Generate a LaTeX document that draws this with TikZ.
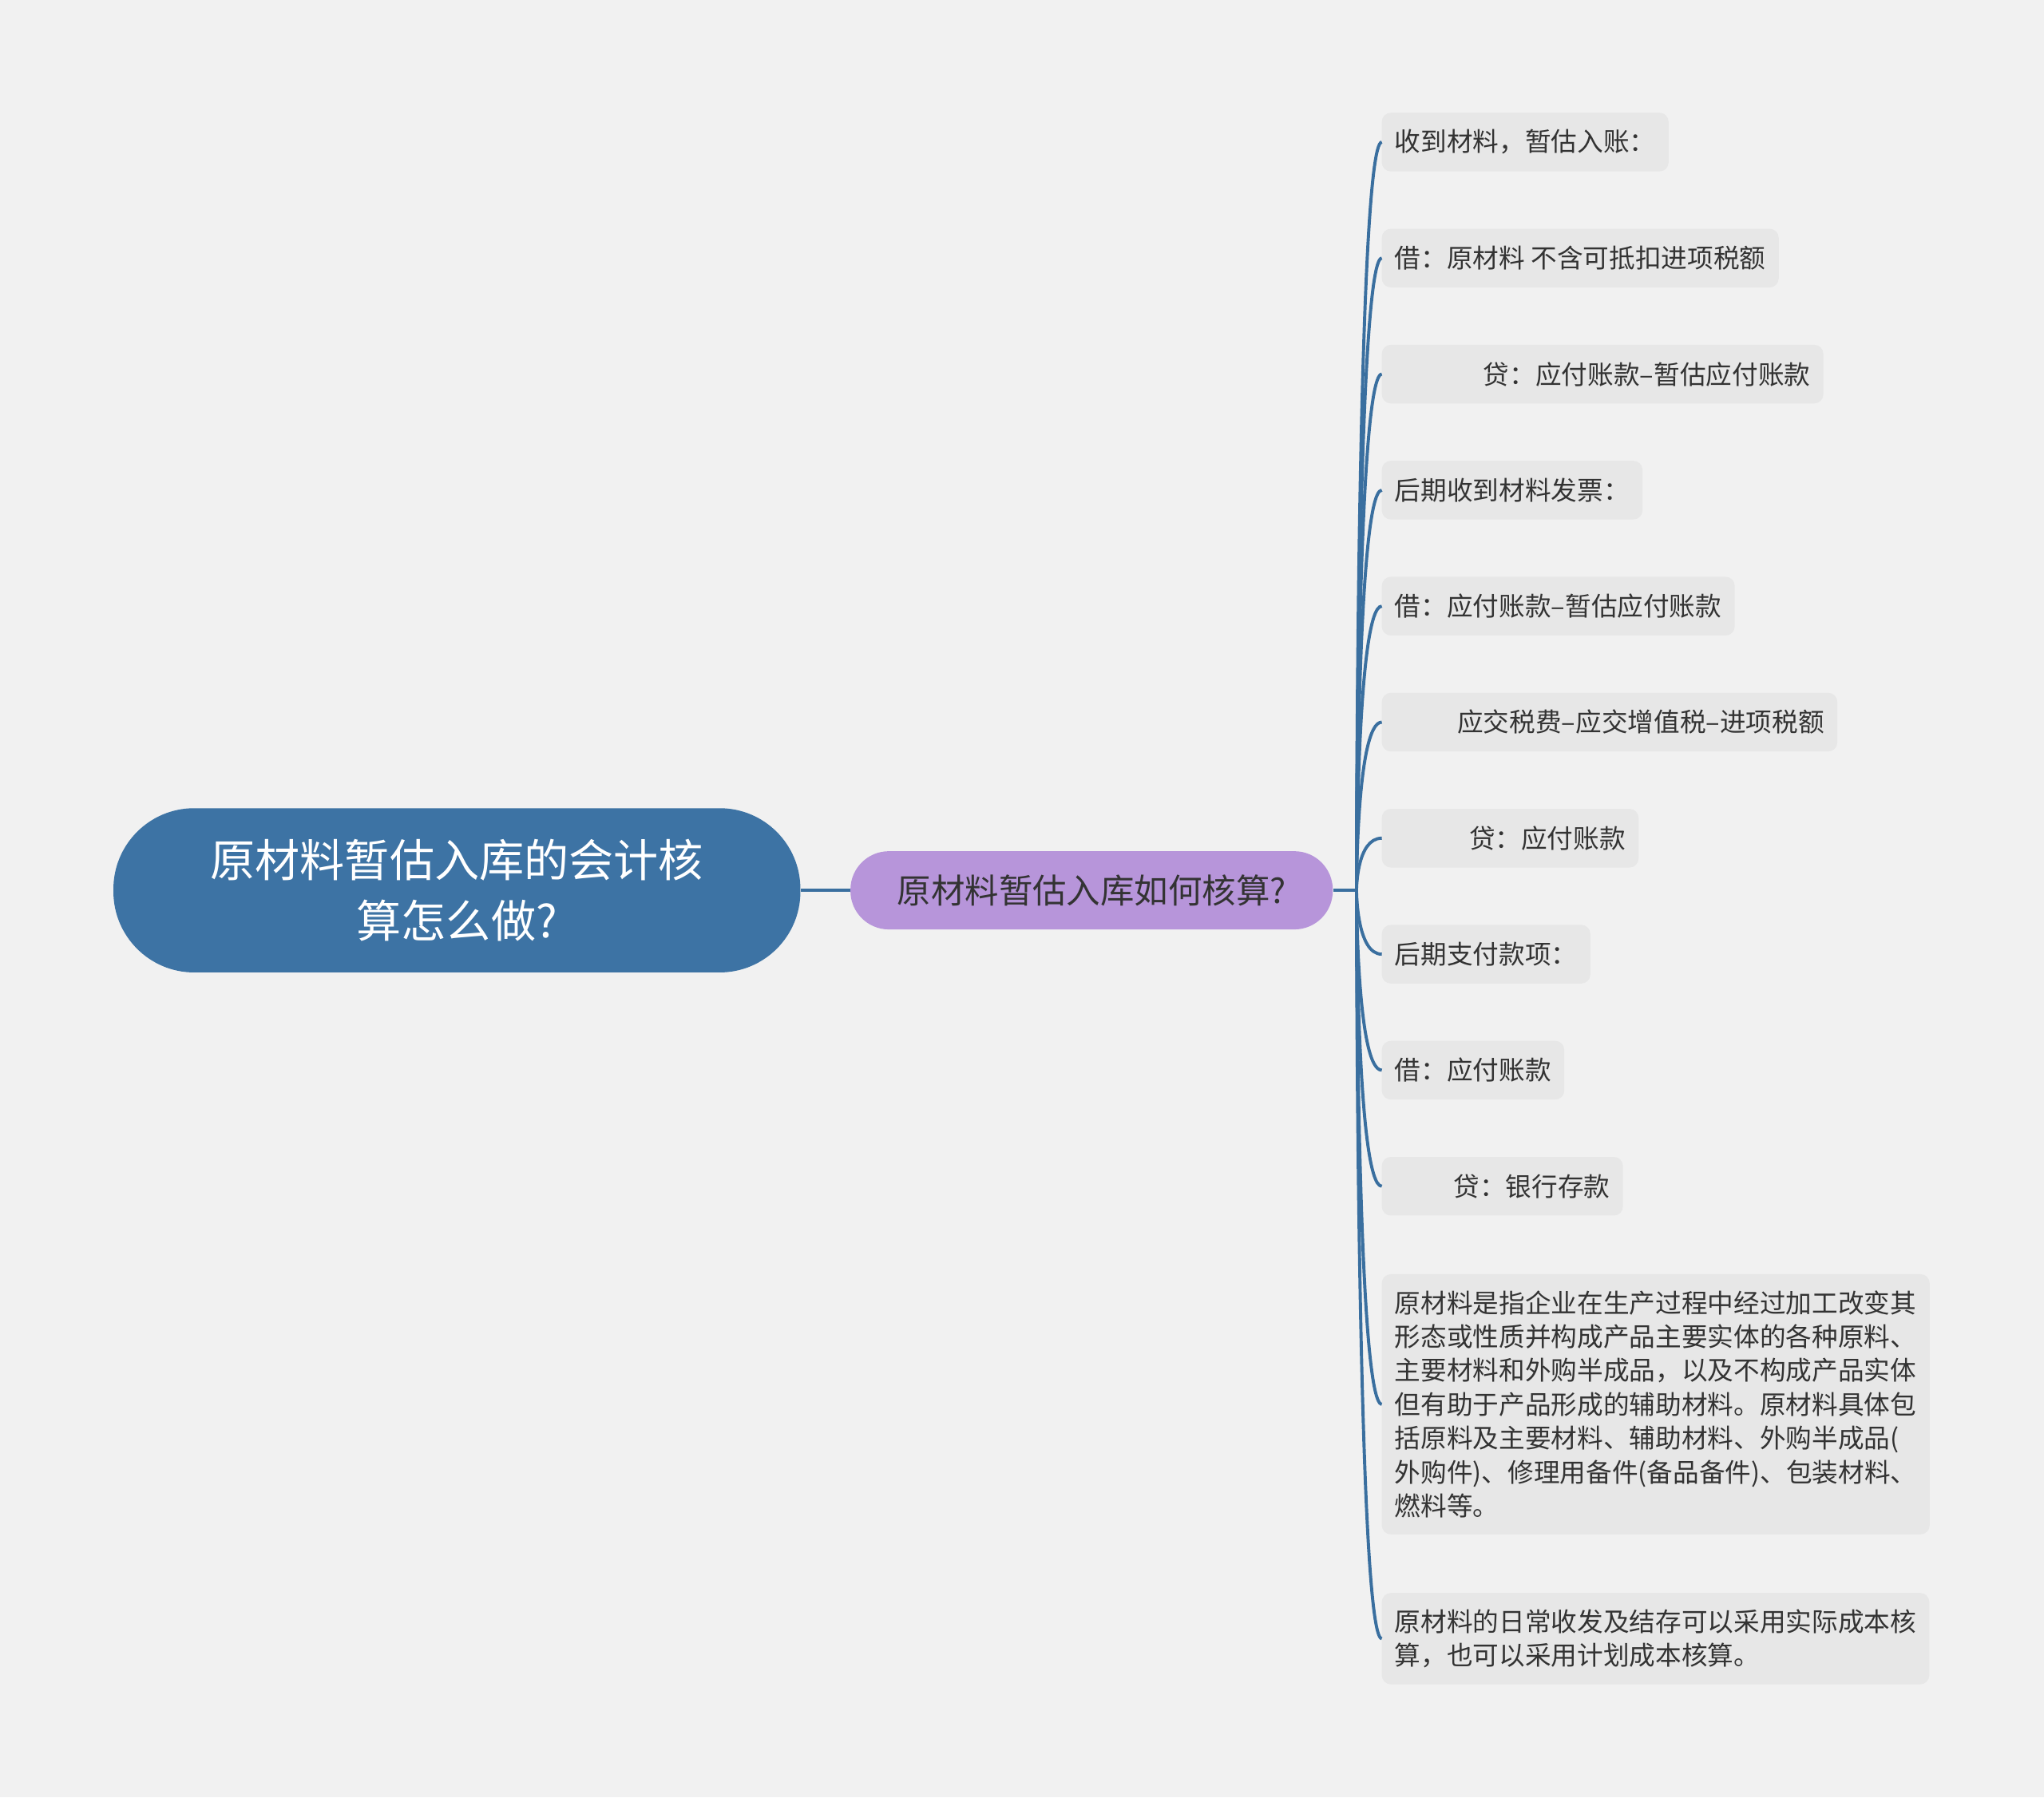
\documentclass[tikz,border=0pt]{standalone}
\usepackage{fontspec}
\setmainfont{Noto Sans CJK SC}
\usepackage{tikz}
\usetikzlibrary{positioning}

\definecolor{bgcol}{HTML}{F1F1F1}
\definecolor{rootcol}{HTML}{3D73A4}
\definecolor{subcol}{HTML}{B795DA}
\definecolor{leafcol}{HTML}{E7E7E7}
\definecolor{linecol}{HTML}{3A6F9F}
\definecolor{txtcol}{HTML}{333333}

\begin{document}
\begin{tikzpicture}[x=1pt,y=1pt,
			node distance=44pt,
			rootbox/.style={
				fill=rootcol,
				text=white,
				rounded corners=62pt,
				minimum width=527pt,
				minimum height=126pt,
				align=center,
				font=\fontsize{34.4}{46}\selectfont
			},
			subbox/.style={
				fill=subcol,
				text=txtcol,
				rounded corners=29.5pt,
				minimum width=370pt,
				minimum height=60pt,
				font=\fontsize{26}{30}\selectfont
			},
			leaf/.style={
				fill=leafcol,
				text=txtcol,
				rounded corners=7pt,
				inner xsep=10pt,
				inner ysep=5pt,
				outer sep=0pt,
				minimum height=45pt,
				align=left,
				font=\fontsize{20}{26}\selectfont
			},
			para/.style={leaf,inner ysep=12.5pt},
			link/.style={draw=linecol,line width=2.4pt}]
			
			\useasboundingbox[fill=bgcol](0,0) rectangle (1568,-1379);
			
			\node (root)[rootbox] at (350.5,-683){原材料暂估入库的会计核\\算怎么做?};
			
			\node (sub)[subbox,right=38pt of root]{原材料暂估入库如何核算?};
			
			\coordinate (hub) at ([xshift=18pt]sub.east);
			
			\node (l1)[leaf,anchor=west] at (1060,-109){收到材料，暂估入账：};
			
			\node (l2)[leaf,below=of l1.south west,anchor=north west]{借：原材料 不含可抵扣进项税额};
			
			\node (l3)[leaf,below=of l2.south west,anchor=north west]{\hspace*{68pt}贷：应付账款–暂估应付账款};
			
			\node (l4)[leaf,below=of l3.south west,anchor=north west]{后期收到材料发票：};
			
			\node (l5)[leaf,below=of l4.south west,anchor=north west]{借：应付账款–暂估应付账款};
			
			\node (l6)[leaf,below=of l5.south west,anchor=north west]{\hspace*{48pt}应交税费–应交增值税–进项税额};
			
			\node (l7)[leaf,below=of l6.south west,anchor=north west]{\hspace*{57pt}贷：应付账款};
			
			\node (l8)[leaf,below=of l7.south west,anchor=north west]{后期支付款项：};
			
			\node (l9)[leaf,below=of l8.south west,anchor=north west]{借：应付账款};
			
			\node (l10)[leaf,below=of l9.south west,anchor=north west]{\hspace*{45pt}贷：银行存款};
			
			\node (l11)[para,below=45pt of l10.south west,anchor=north west]{原材料是指企业在生产过程中经过加工改变其\\形态或性质并构成产品主要实体的各种原料、\\主要材料和外购半成品，以及不构成产品实体\\但有助于产品形成的辅助材料。原材料具体包\\括原料及主要材料、辅助材料、外购半成品(\\外购件)、修理用备件(备品备件)、包装材料、\\燃料等。};
			
			\node (l12)[para,below=45pt of l11.south west,anchor=north west]{原材料的日常收发及结存可以采用实际成本核\\算，也可以采用计划成本核算。};
			
			\draw[link](root)--(sub);
			
			\draw[link](sub)--(hub);
			
			\draw[link](hub) .. controls (hub) and (hub |- l1.west) .. (l1.west);
			
			\draw[link](hub) .. controls (hub) and (hub |- l2.west) .. (l2.west);
			
			\draw[link](hub) .. controls (hub) and (hub |- l3.west) .. (l3.west);
			
			\draw[link](hub) .. controls (hub) and (hub |- l4.west) .. (l4.west);
			
			\draw[link](hub) .. controls (hub) and (hub |- l5.west) .. (l5.west);
			
			\draw[link](hub) .. controls (hub) and (hub |- l6.west) .. (l6.west);
			
			\draw[link](hub) .. controls (hub) and (hub |- l7.west) .. (l7.west);
			
			\draw[link](hub) .. controls (hub) and (hub |- l8.west) .. (l8.west);
			
			\draw[link](hub) .. controls (hub) and (hub |- l9.west) .. (l9.west);
			
			\draw[link](hub) .. controls (hub) and (hub |- l10.west) .. (l10.west);
			
			\draw[link](hub) .. controls (hub) and (hub |- l11.west) .. (l11.west);
			
			\draw[link](hub) .. controls (hub) and (hub |- l12.west) .. (l12.west);
			
		\end{tikzpicture}
\end{document}
